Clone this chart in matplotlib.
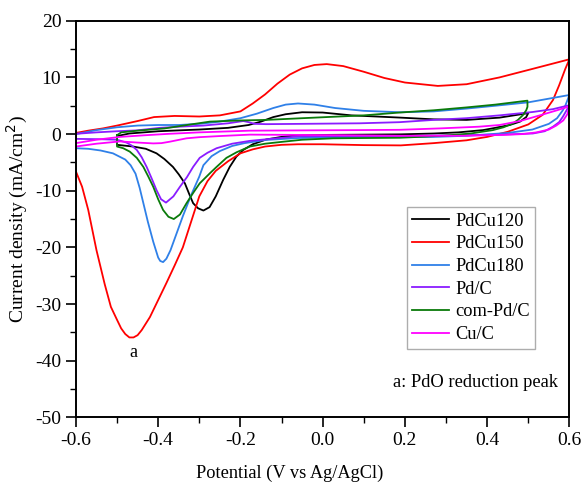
import matplotlib
matplotlib.use("Agg")
import matplotlib.pyplot as plt
from matplotlib.ticker import MultipleLocator

plt.rcParams['font.family'] = ['Liberation Serif', 'DejaVu Serif']
plt.rcParams['axes.unicode_minus'] = False

# CV loops: anodic branch then cathodic branch
pdcu120_x = [-0.5, -0.47, -0.4, -0.3, -0.23, -0.18, -0.15, -0.12, -0.09, -0.05, 0.0, 0.07, 0.13, 0.19, 0.27, 0.35, 0.43, 0.5,
             0.495, 0.48, 0.455, 0.42, 0.39, 0.33, 0.27, 0.19, 0.1, 0.0, -0.06, -0.1, -0.137, -0.17, -0.193, -0.21, -0.226,
             -0.242, -0.26, -0.275, -0.29, -0.303, -0.315, -0.325, -0.335, -0.35, -0.364, -0.385, -0.404, -0.43, -0.461, -0.5, -0.5]
pdcu120_y = [-0.35, 0.1, 0.5, 0.8, 1.1, 1.6, 2.2, 3.0, 3.5, 3.85, 3.8, 3.3, 3.1, 2.9, 2.6, 2.5, 2.9, 3.7,
             3.0, 2.2, 1.6, 1.1, 0.7, 0.3, 0.1, -0.05, -0.1, -0.15, -0.2, -0.5, -0.95, -1.8, -2.8, -4.0, -5.8,
             -8.1, -11.0, -12.9, -13.5, -13.1, -12.2, -10.5, -8.7, -7.1, -5.8, -4.4, -3.4, -2.6, -2.2, -1.9, -0.35]

pdcu150_x = [-0.6, -0.57, -0.534, -0.5, -0.45, -0.41, -0.36, -0.3, -0.25, -0.2, -0.17, -0.14, -0.11, -0.08, -0.05, -0.02,
             0.01, 0.05, 0.1, 0.15, 0.2, 0.28, 0.35, 0.43, 0.51, 0.6,
             0.59, 0.575, 0.56, 0.535, 0.5, 0.45, 0.4, 0.35, 0.27, 0.19, 0.1, 0.0, -0.06, -0.1, -0.14, -0.17, -0.2, -0.23,
             -0.26, -0.28, -0.3, -0.32, -0.34, -0.36, -0.38, -0.4, -0.42, -0.44, -0.45, -0.46, -0.47, -0.48, -0.49, -0.5,
             -0.515, -0.53, -0.55, -0.57, -0.585, -0.6]
pdcu150_y = [0.2, 0.6, 1.0, 1.5, 2.3, 3.0, 3.2, 3.1, 3.3, 4.0, 5.4, 7.0, 8.9, 10.5, 11.6, 12.2,
             12.35, 12.0, 11.0, 9.9, 9.1, 8.5, 8.8, 10.0, 11.5, 13.2,
             11.5, 8.6, 6.0, 3.4, 1.7, 0.4, -0.5, -1.1, -1.6, -2.0, -1.95, -1.8, -1.8, -1.9, -2.2, -2.7, -3.4, -4.8,
             -6.5, -8.3, -11.0, -15.5, -20.0, -23.2, -26.3, -29.3, -32.3, -34.6, -35.5, -35.9, -35.9, -35.3, -34.3, -32.8,
             -30.5, -26.5, -20.5, -13.4, -9.3, -6.6]

pdcu180_x = [-0.6, -0.55, -0.5, -0.45, -0.4, -0.35, -0.3, -0.25, -0.2, -0.16, -0.12, -0.09, -0.06, -0.02, 0.03, 0.1,
             0.19, 0.27, 0.35, 0.42, 0.5, 0.6,
             0.59, 0.584, 0.57, 0.55, 0.51, 0.45, 0.35, 0.27, 0.19, 0.1, 0.0, -0.06, -0.14, -0.19, -0.22, -0.25, -0.27,
             -0.29, -0.3, -0.32, -0.34, -0.355, -0.37, -0.38, -0.388, -0.395, -0.4, -0.412, -0.425, -0.436, -0.445,
             -0.455, -0.467, -0.48, -0.51, -0.54, -0.57, -0.6]
pdcu180_y = [0.0, 0.7, 1.2, 1.5, 1.6, 1.6, 1.8, 2.2, 2.8, 3.6, 4.6, 5.2, 5.4, 5.2, 4.6, 4.1,
             3.85, 4.0, 4.5, 5.0, 5.6, 6.9,
             5.0, 4.2, 2.8, 1.8, 0.8, 0.2, -0.3, -0.5, -0.5, -0.5, -0.6, -0.7, -1.05, -1.6, -2.1, -3.0, -3.9,
             -5.5, -7.5, -10.8, -14.5, -17.5, -20.5, -22.0, -22.6, -22.4, -21.8, -19.0, -15.5, -12.2, -9.5,
             -7.0, -5.5, -4.5, -3.4, -2.9, -2.6, -2.5]

pdc_x = [-0.6, -0.55, -0.5, -0.452, -0.396, -0.35, -0.29, -0.23, -0.193, -0.18, -0.165, -0.137, -0.056, 0.09, 0.187,
         0.27, 0.349, 0.43, 0.511, 0.56, 0.6,
         0.59, 0.584, 0.575, 0.56, 0.54, 0.511, 0.43, 0.349, 0.187, 0.05, -0.056, -0.12, -0.177, -0.22, -0.258, -0.28,
         -0.299, -0.315, -0.33, -0.347, -0.363, -0.381, -0.393, -0.404, -0.416, -0.428, -0.44, -0.452, -0.465, -0.477,
         -0.5, -0.546, -0.6, -0.6]
pdc_y = [0.05, 0.3, 0.5, 0.65, 1.1, 1.3, 1.5, 1.9, 2.3, 2.1, 1.8, 1.75, 1.8, 1.9, 2.1,
         2.5, 2.8, 3.3, 3.9, 4.4, 5.1,
         3.8, 3.05, 2.1, 1.3, 0.5, 0.1, -0.1, -0.2, -0.35, -0.35, -0.4, -0.8, -1.2, -1.7, -2.5, -3.3,
         -4.2, -5.8, -7.6, -9.3, -11.0, -12.1, -11.5, -9.9, -7.8, -5.8, -4.1, -2.8, -2.0, -1.5,
         -1.0, -0.9, -0.85, 0.05]

compdc_x = [-0.5, -0.49, -0.45, -0.384, -0.33, -0.274, -0.2, -0.137, -0.05, 0.025, 0.1, 0.187, 0.27, 0.349, 0.42, 0.498,
            0.498, 0.495, 0.487, 0.475, 0.463, 0.44, 0.414, 0.36, 0.309, 0.25, 0.187, 0.1, 0.025, -0.05, -0.096, -0.14,
            -0.177, -0.209, -0.234, -0.258, -0.274, -0.299, -0.315, -0.331, -0.347, -0.362, -0.375, -0.388, -0.4,
            -0.412, -0.424, -0.436, -0.452, -0.469, -0.485, -0.5, -0.5]
compdc_y = [-0.2, 0.3, 0.6, 1.0, 1.6, 2.2, 2.4, 2.5, 2.8, 3.05, 3.3, 3.8, 4.2, 4.7, 5.2, 5.9,
            4.8, 4.2, 3.35, 2.5, 1.9, 1.2, 0.7, 0.1, -0.2, -0.45, -0.65, -0.7, -0.75, -1.0, -1.35, -1.7,
            -2.2, -3.2, -4.2, -5.8, -6.9, -8.7, -10.4, -12.2, -14.2, -15.0, -14.6, -13.4, -11.5,
            -9.3, -7.5, -5.8, -4.2, -3.1, -2.5, -2.2, -0.2]

cuc_x = [-0.6, -0.55, -0.493, -0.43, -0.372, -0.3, -0.177, -0.05, 0.09, 0.187, 0.285, 0.38, 0.43, 0.48, 0.528, 0.57, 0.6,
         0.595, 0.585, 0.568, 0.55, 0.52, 0.487, 0.44, 0.35, 0.19, 0.05, -0.06, -0.177, -0.25, -0.3, -0.331, -0.355,
         -0.372, -0.392, -0.412, -0.45, -0.493, -0.55, -0.6]
cuc_y = [-1.6, -1.0, -0.5, -0.2, 0.05, 0.3, 0.6, 0.65, 0.7, 0.75, 1.0, 1.3, 1.6, 2.3, 3.3, 4.2, 4.9,
         3.5, 2.4, 1.5, 0.8, 0.3, 0.0, -0.15, -0.3, -0.3, -0.2, -0.15, -0.1, -0.35, -0.55, -0.75, -1.1,
         -1.35, -1.6, -1.65, -1.5, -1.3, -1.7, -2.2]

labels = ['PdCu120', 'PdCu150', 'PdCu180', 'Pd/C', 'com-Pd/C', 'Cu/C']
colors = ['black', '#ff0000', '#2f80e8', '#8a1cff', '#0a7a0a', '#ff00ff']

fig = plt.figure(figsize=(5.84, 4.83), dpi=100)
ax = fig.add_axes([0.130, 0.136, 0.845, 0.821])

series = [(pdcu120_x, pdcu120_y), (pdcu150_x, pdcu150_y), (pdcu180_x, pdcu180_y),
          (pdc_x, pdc_y), (compdc_x, compdc_y), (cuc_x, cuc_y)]
for (xs, ys), lab, c in zip(series, labels, colors):
    ax.plot(xs, ys, color=c, lw=1.3, label=lab)

ax.set_xlim(-0.6, 0.6)
ax.set_ylim(-50, 20)
ax.xaxis.set_major_locator(MultipleLocator(0.2))
ax.xaxis.set_minor_locator(MultipleLocator(0.1))
ax.yaxis.set_major_locator(MultipleLocator(10))
ax.yaxis.set_minor_locator(MultipleLocator(5))
ax.set_xticklabels([f'{v:.1f}' for v in ax.get_xticks()])
ax.tick_params(which='major', length=7, width=1.2, labelsize=14, direction='out')
ax.tick_params(which='minor', length=4, width=1.0, direction='out')
for s in ax.spines.values():
    s.set_linewidth(1.4)

ax.set_xlabel('Potential (V vs Ag/AgCl)', fontsize=13.2)
ax.xaxis.set_label_coords(0.434, -0.12)
ax.set_ylabel('Current density (mA/cm$^2$)', fontsize=14, labelpad=4)

ax.text(-0.461, -38.6, 'a', fontsize=13, ha='center', va='center')
ax.text(0.977, 0.087, 'a: PdO reduction peak', fontsize=13.3, ha='right', va='center', transform=ax.transAxes)

leg = ax.legend(loc='upper right', bbox_to_anchor=(0.931, 0.530), fontsize=13.2, frameon=True, fancybox=False,
                handlelength=2.0, handletextpad=0.35, labelspacing=0.31, borderpad=0.3, borderaxespad=0)
leg.get_frame().set_edgecolor('#999999')
leg.get_frame().set_linewidth(1.0)

fig.savefig('out.png', dpi=100)
